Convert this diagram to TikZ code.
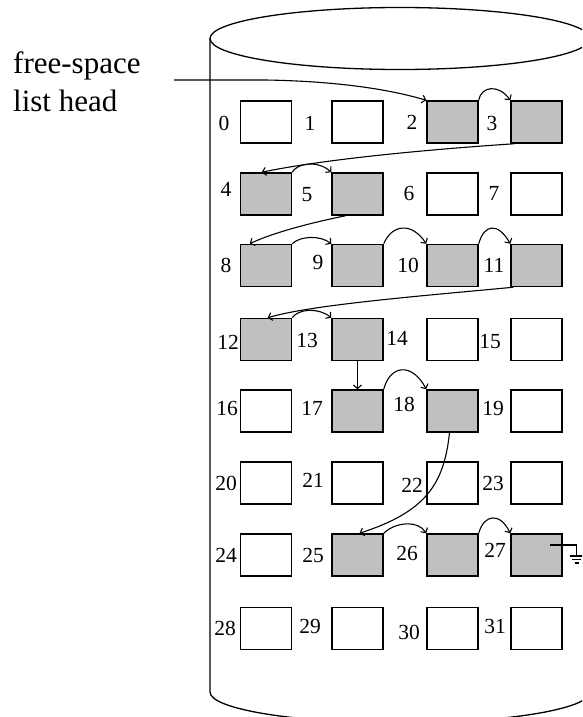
\documentclass[tikz,border=0pt]{standalone}
\usepackage{fontspec}
\setmainfont{Liberation Serif}
\usetikzlibrary{arrows.meta,calc}
\definecolor{usedgray}{HTML}{C0C0C0}
\begin{document}
\begin{tikzpicture}[x=1pt,y=-1pt,
  blk/.style={draw=black, line width=1.5pt, minimum width=51pt, minimum height=42pt, inner sep=0pt, fill=white},
  used/.style={blk, fill=usedgray},
  num/.style={font=\fontsize{21.5}{21.5}\selectfont, inner sep=0pt},
  link/.style={line width=1.1pt, -{Straight Barb[length=3.5pt,width=8pt]}},
  cyl/.style={line width=1.3pt}]
\useasboundingbox (0,0) rectangle (582,717);
\clip (0,0) rectangle (582,717);
% cylinder
\draw[cyl] (400,38.5) ellipse [x radius=190pt, y radius=31pt];
\draw[cyl] (210,38.5) -- (210,692) arc[start angle=180, end angle=360, x radius=190pt, y radius=31pt] -- (590,38.5);
% head label
\node (head) [anchor=base west, align=left, inner sep=0pt, font=\fontsize{31}{38}\selectfont] at (13,111) {free-space\\list head};
\coordinate (hs) at (174,80);
% blocks
\node[blk]  (b0)  at (266,122) {};
\node[blk]  (b1)  at (357.5,122) {};
\node[used] (b2)  at (452.5,122) {};
\node[used] (b3)  at (536.5,122) {};
\node[used] (b4)  at (266,194) {};
\node[used] (b5)  at (357.5,194) {};
\node[blk]  (b6)  at (452.5,194) {};
\node[blk]  (b7)  at (536.5,194) {};
\node[used] (b8)  at (266,265.5) {};
\node[used] (b9)  at (357.5,265.5) {};
\node[used] (b10) at (452.5,265.5) {};
\node[used] (b11) at (536.5,265.5) {};
\node[used] (b12) at (266,339.5) {};
\node[used] (b13) at (357.5,339.5) {};
\node[blk]  (b14) at (452.5,339.5) {};
\node[blk]  (b15) at (536.5,339.5) {};
\node[blk]  (b16) at (266,411) {};
\node[used] (b17) at (357.5,411) {};
\node[used] (b18) at (452.5,411) {};
\node[blk]  (b19) at (536.5,411) {};
\node[blk]  (b20) at (266,483) {};
\node[blk]  (b21) at (357.5,483) {};
\node[blk]  (b22) at (452.5,483) {};
\node[blk]  (b23) at (536.5,483) {};
\node[blk]  (b24) at (266,555) {};
\node[used] (b25) at (357.5,555) {};
\node[used] (b26) at (452.5,555) {};
\node[used] (b27) at (536.5,555) {};
\node[blk]  (b28) at (266,628.5) {};
\node[blk]  (b29) at (357.5,628.5) {};
\node[blk]  (b30) at (452.5,628.5) {};
\node[blk]  (b31) at (536.5,628.5) {};
% numbers
\node[num] (n0)  at (224,123) {0};
\node[num] (n1)  at (310,123) {1};
\node[num] (n2)  at (412,122) {2};
\node[num] (n3)  at (492,123) {3};
\node[num] (n4)  at (226,189) {4};
\node[num] (n5)  at (307,195) {5};
\node[num] (n6)  at (409,193) {6};
\node[num] (n7)  at (494,193) {7};
\node[num] (n8)  at (226,265) {8};
\node[num] (n9)  at (318,262) {9};
\node[num] (n10) at (408,265) {10};
\node[num] (n11) at (494,265) {11};
\node[num] (n12) at (228,342) {12};
\node[num] (n13) at (307,340) {13};
\node[num] (n14) at (397,338) {14};
\node[num] (n15) at (490,342) {15};
\node[num] (n16) at (227,408) {16};
\node[num] (n17) at (312,408) {17};
\node[num] (n18) at (404,404) {18};
\node[num] (n19) at (493,408) {19};
\node[num] (n20) at (226,483) {20};
\node[num] (n21) at (313,480) {21};
\node[num] (n22) at (412,485) {22};
\node[num] (n23) at (493,483) {23};
\node[num] (n24) at (226,555) {24};
\node[num] (n25) at (313,555) {25};
\node[num] (n26) at (407,553) {26};
\node[num] (n27) at (495,550) {27};
\node[num] (n28) at (225,628) {28};
\node[num] (n29) at (310,626) {29};
\node[num] (n30) at (409,632) {30};
\node[num] (n31) at (495,626) {31};
% links
\draw[link] (hs) -- (265,80) .. controls (330,81) and (385,88) .. (b2.north west);
\draw[link] (b2.north east) .. controls (481,86) and (499,84) .. (b3.north west);
\draw[link] ($(b3.south west)+(4,0)$) .. controls (420,150) and (320,160) .. ($(b4.north west)+(22,0)$);
\draw[link] (b4.north east) .. controls (297,163) and (318,160) .. (b5.north west);
\draw[link] ($(b5.south)+(-12,0)$) .. controls (305,224) and (270,234) .. ($(b8.north west)+(10,0)$);
\draw[link] (b8.north east) .. controls (300,236) and (320,235) .. (b9.north west);
\draw[link] (b9.north east) .. controls (392,224) and (412,222) .. (b10.north west);
\draw[link] (b10.north east) .. controls (484,224) and (498,222) .. (b11.north west);
\draw[link] ($(b11.south west)+(3,0)$) .. controls (420,296) and (310,305) .. ($(b12.north west)+(28,0)$);
\draw[link] (b12.north east) .. controls (298,309) and (318,307) .. (b13.north west);
\draw[link] (b13.south) -- (b17.north);
\draw[link] (b17.north east) .. controls (390,365) and (412,362) .. (b18.north west);
\draw[link] ($(b18.south)+(-3,0)$) .. controls (444,485) and (425,512) .. ($(b25.north)+(2,0)$);
\draw[link] (b25.north east) .. controls (395,522) and (418,520) .. (b26.north west);
\draw[link] (b26.north east) .. controls (484,514) and (500,512) .. (b27.north west);
% ground
\draw[line width=1.1pt] ($(b27.center)+(13,-10)$) -- ++(27,0) -- ++(0,11) coordinate (gnd);
\draw[line width=1.1pt] ($(gnd)+(-7,0)$) -- ++(14,0)
  ($(gnd)+(-4.5,3.5)$) -- ++(9,0)
  ($(gnd)+(-2,7)$) -- ++(4,0);
\end{tikzpicture}
\end{document}
